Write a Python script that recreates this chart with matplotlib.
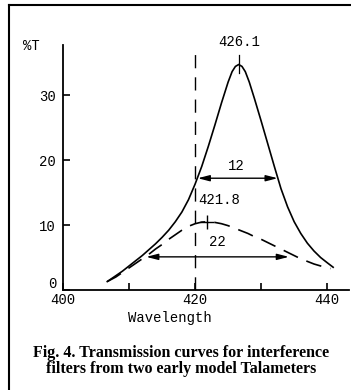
import matplotlib
matplotlib.use("Agg")
import matplotlib.pyplot as plt
from matplotlib.lines import Line2D
import matplotlib.transforms as mtransforms

# ---- data ----
solid_wl = [406.7, 408.0, 409.0, 410.0, 411.0, 412.0, 413.0, 414.0, 415.0, 416.0,
            417.0, 418.0, 419.0, 420.0, 421.0, 422.0, 423.0, 424.0, 425.0, 425.6,
            426.1, 426.6, 427.1, 427.6, 428.2, 429.0, 430.0, 431.0, 432.0, 433.0,
            434.0, 435.0, 436.0, 437.0, 438.0, 439.0, 440.0, 440.9]
solid_T = [1.3, 2.2, 2.9, 3.7, 4.5, 5.3, 6.2, 7.1, 8.1, 9.2,
           10.5, 12.0, 13.9, 16.3, 19.0, 22.1, 25.4, 28.8, 32.0, 33.6,
           34.4, 34.7, 34.4, 33.6, 32.0, 29.4, 26.0, 22.5, 19.0, 15.6,
           12.8, 10.5, 8.7, 7.2, 6.0, 5.0, 4.2, 3.5]

dashed_wl = [406.7, 408.0, 409.0, 410.0, 411.0, 412.0, 413.0, 414.0, 415.0, 416.0,
             417.0, 418.0, 419.0, 420.0, 421.0, 422.0, 423.0, 424.0, 425.0, 426.0,
             427.0, 428.0, 429.0, 430.0, 431.0, 432.0, 433.0, 434.0, 435.0, 436.0,
             437.0, 438.0, 439.0, 440.5]
dashed_T = [1.3, 2.0, 2.7, 3.4, 4.1, 4.8, 5.5, 6.3, 7.0, 7.8,
            8.5, 9.2, 9.8, 10.2, 10.45, 10.5, 10.4, 10.2, 9.9, 9.5,
            9.1, 8.7, 8.2, 7.8, 7.3, 6.8, 6.3, 5.8, 5.3, 4.8,
            4.4, 4.0, 3.7, 3.3]

xticks = [400, 410, 420, 430, 440]
xtick_labels = ["400", "", "420", "", "440"]
yticks = [0, 10, 20, 30]
ytick_labels = ["0", "10", "20", "30"]

peak1 = (426.6, 34.7)
peak1_label = "426.1"
peak2 = (421.8, 10.5)
peak2_label = "421.8"
hw1 = (420.4, 432.5, 17.2)
hw1_label = "12"
hw2 = (412.6, 434.2, 5.1)
hw2_label = "22"
ref_wl = 420

mono = "Liberation Mono"

fig = plt.figure(figsize=(3.51, 3.90), dpi=100)
ax = fig.add_axes([63 / 351, 100 / 390, 286 / 351, 245 / 390])
ax.set_xlim(400, 443.3)
ax.set_ylim(0, 37.7)
for s in ["top", "right"]:
    ax.spines[s].set_visible(False)
for s in ["left", "bottom"]:
    ax.spines[s].set_linewidth(1.3)

ax.set_xticks(xticks)
ax.set_xticklabels(xtick_labels, fontfamily=mono, fontsize=10)
ax.set_yticks(yticks)
ax.set_yticklabels(ytick_labels, fontfamily=mono, fontsize=10)
ax.tick_params(axis="both", direction="in", length=5, width=1.2)
ax.tick_params(axis="x", pad=2)
ax.tick_params(axis="y", pad=5)

ax.plot(solid_wl, solid_T, color="black", lw=1.2, clip_on=False,
        solid_joinstyle="round")
ax.plot(dashed_wl, dashed_T, color="black", lw=1.2,
        linestyle=(0, (9.5, 5.5)), clip_on=False)
ax.plot([ref_wl, ref_wl], [0, 37.2], color="black", lw=1.0,
        linestyle=(0, (9.5, 6.5)), clip_on=False)

# peak marks
ax.plot([peak1[0], peak1[0]], [33.4, 36.2], color="black", lw=0.9, clip_on=False)
ax.plot([peak2[0]], [peak2[1]], marker="+", markersize=10, mew=1.0, color="black")

ax.text(peak1[0], 38.2, peak1_label, ha="center", va="center",
        fontfamily=mono, fontsize=10)
ax.text(423.6, 13.8, peak2_label, ha="center", va="center",
        fontfamily=mono, fontsize=10)
ax.text(426.2, 19.1, hw1_label, ha="center", va="center",
        fontfamily=mono, fontsize=10)
ax.text(423.3, 7.4, hw2_label, ha="center", va="center",
        fontfamily=mono, fontsize=10)

arrow_props = dict(arrowstyle="<|-|>,head_length=0.7,head_width=0.18",
                   color="black", lw=1.0, shrinkA=0, shrinkB=0)
ax.annotate("", xy=(hw1[1], hw1[2]), xytext=(hw1[0], hw1[2]), arrowprops=arrow_props)
ax.annotate("", xy=(hw2[1], hw2[2]), xytext=(hw2[0], hw2[2]), arrowprops=arrow_props)

fig.text(170 / 351, 1 - 318 / 390, "Wavelength", ha="center", va="center",
         fontfamily=mono, fontsize=10)
fig.text(31 / 351, 1 - 46 / 390, "%T", ha="center", va="center",
         fontfamily=mono, fontsize=10)

fig.text(181 / 351, 1 - 353 / 390,
         "Fig. 4. Transmission curves for interference",
         ha="center", va="center", fontfamily="Liberation Serif",
         fontweight="bold", fontsize=11.5)
fig.text(181 / 351, 1 - 369 / 390,
         "filters from two early model Talameters",
         ha="center", va="center", fontfamily="Liberation Serif",
         fontweight="bold", fontsize=11.5)

# page border
fig.add_artist(Line2D([9 / 351, 1.0], [1 - 5 / 390, 1 - 5 / 390],
                      transform=fig.transFigure, color="black", lw=1.5))
fig.add_artist(Line2D([9 / 351, 9 / 351], [0, 1 - 5 / 390],
                      transform=fig.transFigure, color="black", lw=1.5))

fig.canvas.draw()
# lift the "0" label slightly as in the reference
lab0 = ax.get_yticklabels()[0]
lab0.set_transform(lab0.get_transform() + mtransforms.ScaledTranslation(0, 7 / 100, fig.dpi_scale_trans))

fig.savefig("out.png", dpi=100)
